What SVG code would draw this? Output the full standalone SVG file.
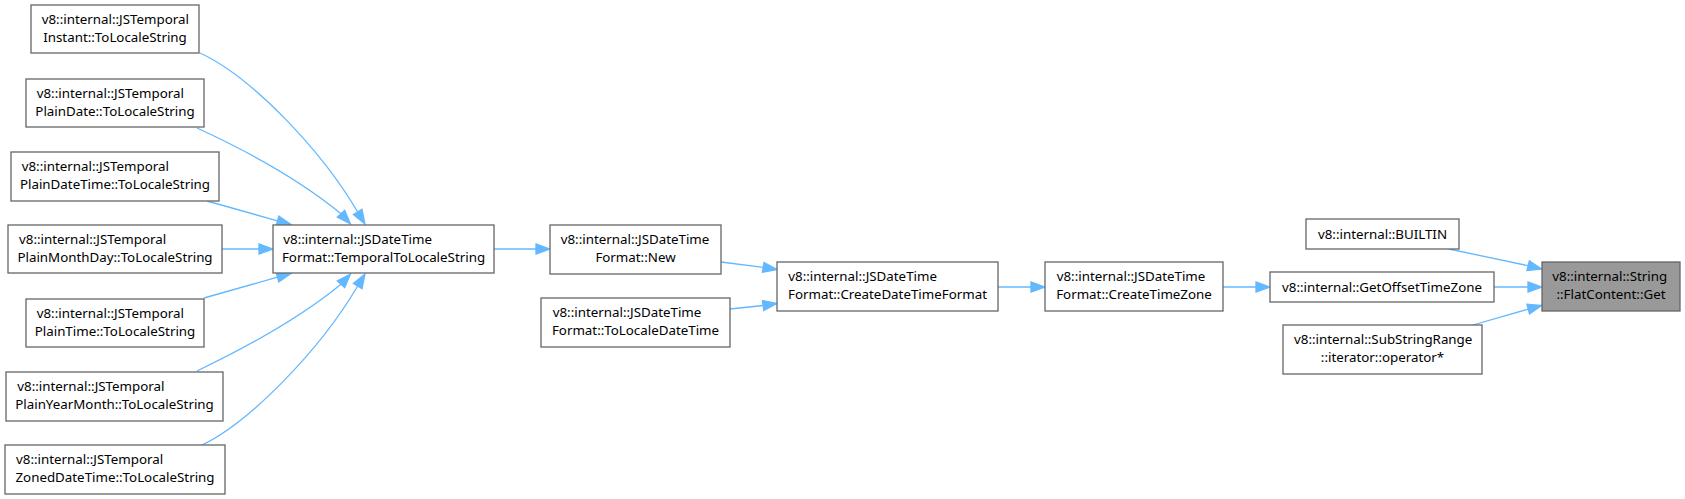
<svg xmlns="http://www.w3.org/2000/svg" width="1685" height="499" viewBox="0 0 1685 499">
<style>
.node rect{fill:#ffffff;stroke:#666666;stroke-width:1.3}
.node.hl rect{fill:#999999}
.node text{font-family:"Noto Sans","DejaVu Sans",sans-serif;font-size:13.33px;fill:#000000}
.s{text-anchor:start}
.m{text-anchor:middle}
#edges path{fill:none;stroke:#63b8ff;stroke-width:1.3}
#edges polygon{fill:#63b8ff;stroke:#63b8ff;stroke-width:1.3}
</style>
<rect x="0" y="0" width="1685" height="499" fill="#ffffff"/>
<g id="edges">
<path d="M200,53 C250,76 320,148 357.7,212"/>
<polygon points="365,224 353.4,214.6 362,209.4"/>
<path d="M197,128 C245,150 300,180 341,213.7"/>
<polygon points="350.5,224 337.3,217.1 344.7,210.3"/>
<path d="M207,201 L277.5,220.8"/>
<polygon points="291,224.5 276.2,225.6 278.8,216"/>
<path d="M222,249 L259,249"/>
<polygon points="273,249 259,244 259,254"/>
<path d="M204,298 L277.5,277.2"/>
<polygon points="291,273.5 276.2,272.4 278.8,282"/>
<path d="M197,371 C245,348 300,318 341,284.3"/>
<polygon points="350.5,274 337.3,280.9 344.7,287.7"/>
<path d="M202,445 C250,422 320,350 357.7,286"/>
<polygon points="365,274 353.4,283.4 362,288.6"/>
<path d="M494,249 L536,249"/>
<polygon points="550,249 536,244 536,254"/>
<path d="M721,262 L763.2,267.4"/>
<polygon points="777,269.5 762.4,272.3 764,262.5"/>
<path d="M730,309 L763.1,305.5"/>
<polygon points="777,303.5 763.8,310.5 762.4,300.5"/>
<path d="M998,287 L1031,287"/>
<polygon points="1045,287 1031,282 1031,292"/>
<path d="M1223,287 L1256,287"/>
<polygon points="1270,287 1256,282 1256,292"/>
<path d="M1449,249 L1528.1,265.7"/>
<polygon points="1541.7,269 1526.9,270.6 1529.3,260.8"/>
<path d="M1494,287 L1528,287"/>
<polygon points="1542,287 1528,282 1528,292"/>
<path d="M1473,325 L1528.2,309.1"/>
<polygon points="1541.7,305.5 1529.5,313.9 1526.9,304.3"/>
</g>
<g id="n_instant" class="node">
<rect x="31" y="5" width="168" height="48"/>
<text class="s" x="41.7" y="23.7">v8::internal::JSTemporal</text>
<text class="m" x="115" y="42">Instant::ToLocaleString</text>
</g>
<g id="n_plaindate" class="node">
<rect x="26" y="79" width="178" height="48"/>
<text class="s" x="36.7" y="97.7">v8::internal::JSTemporal</text>
<text class="m" x="115" y="116">PlainDate::ToLocaleString</text>
</g>
<g id="n_plaindatetime" class="node">
<rect x="11" y="152" width="208" height="49"/>
<text class="s" x="21.7" y="170.7">v8::internal::JSTemporal</text>
<text class="m" x="115" y="189">PlainDateTime::ToLocaleString</text>
</g>
<g id="n_plainmonthday" class="node">
<rect x="8" y="225" width="214" height="48"/>
<text class="s" x="19" y="243.7">v8::internal::JSTemporal</text>
<text class="m" x="115" y="262">PlainMonthDay::ToLocaleString</text>
</g>
<g id="n_temporaltolocalestring" class="node">
<rect x="273" y="225" width="221" height="48"/>
<text class="s" x="283.3" y="243.7">v8::internal::JSDateTime</text>
<text class="m" x="383.5" y="262">Format::TemporalToLocaleString</text>
</g>
<g id="n_plaintime" class="node">
<rect x="26" y="299" width="178" height="48"/>
<text class="s" x="36.7" y="317.7">v8::internal::JSTemporal</text>
<text class="m" x="115" y="336">PlainTime::ToLocaleString</text>
</g>
<g id="n_plainyearmonth" class="node">
<rect x="6" y="372" width="217" height="49"/>
<text class="s" x="17.3" y="390.7">v8::internal::JSTemporal</text>
<text class="m" x="114.5" y="409">PlainYearMonth::ToLocaleString</text>
</g>
<g id="n_zoneddatetime" class="node">
<rect x="5" y="445" width="220" height="49"/>
<text class="s" x="16" y="463.7">v8::internal::JSTemporal</text>
<text class="m" x="115" y="482">ZonedDateTime::ToLocaleString</text>
</g>
<g id="n_new" class="node">
<rect x="550" y="225" width="171" height="49"/>
<text class="s" x="560.7" y="243.7">v8::internal::JSDateTime</text>
<text class="m" x="635.5" y="262">Format::New</text>
</g>
<g id="n_tolocaledatetime" class="node">
<rect x="541" y="298" width="189" height="49"/>
<text class="s" x="552.7" y="316.7">v8::internal::JSDateTime</text>
<text class="m" x="635.5" y="335">Format::ToLocaleDateTime</text>
</g>
<g id="n_createdatetimeformat" class="node">
<rect x="777" y="262" width="221" height="49"/>
<text class="s" x="788.3" y="280.7">v8::internal::JSDateTime</text>
<text class="m" x="887.5" y="299">Format::CreateDateTimeFormat</text>
</g>
<g id="n_createtimezone" class="node">
<rect x="1045" y="262" width="178" height="49"/>
<text class="s" x="1056.7" y="280.7">v8::internal::JSDateTime</text>
<text class="m" x="1134" y="299">Format::CreateTimeZone</text>
</g>
<g id="n_builtin" class="node">
<rect x="1306" y="219" width="153" height="30"/>
<text class="m" x="1382.5" y="238.5">v8::internal::BUILTIN</text>
</g>
<g id="n_getoffsettimezone" class="node">
<rect x="1270" y="272" width="224" height="30"/>
<text class="m" x="1382" y="291.5">v8::internal::GetOffsetTimeZone</text>
</g>
<g id="n_substringrange" class="node">
<rect x="1283" y="325" width="199" height="49"/>
<text class="s" x="1294" y="343.7">v8::internal::SubStringRange</text>
<text class="m" x="1382.5" y="362">::iterator::operator*</text>
</g>
<g id="n_flatcontent_get" class="node hl">
<rect x="1542" y="262" width="138" height="49"/>
<text class="s" x="1552.3" y="280.7">v8::internal::String</text>
<text class="m" x="1611" y="299">::FlatContent::Get</text>
</g>
</svg>
